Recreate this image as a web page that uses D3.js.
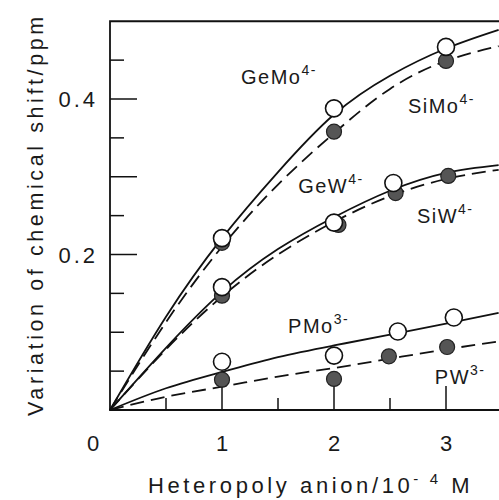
<!DOCTYPE html>
<html>
<head>
<meta charset="utf-8">
<script src="https://cdn.jsdelivr.net/npm/d3@7"></script>
<style>
  body { margin: 0; background: #fff; }
  svg { display: block; }
  text { font-family: "Liberation Sans", Arial, sans-serif; fill: #1a1a1a; }
</style>
</head>
<body>
<div id="chart"></div>
<script>
// curve x positions (10^-4 M) used for the fitted lines
const curveX = [0, 0.5, 1, 1.5, 2, 2.5, 3, 3.47]

// fitted curves (ppm)
const geMoCurve = [0, 0.12, 0.221, 0.306, 0.380, 0.430, 0.465, 0.489]
const siMoCurve = [0, 0.113, 0.21, 0.29, 0.356, 0.413, 0.449, 0.468]
const geWCurve  = [0, 0.08, 0.152, 0.207, 0.248, 0.282, 0.305, 0.315]
const siWCurve  = [0, 0.078, 0.146, 0.2, 0.242, 0.275, 0.297, 0.309]
const pMoCurve  = [0, 0.028, 0.049, 0.068, 0.083, 0.097, 0.111, 0.125]
const pWCurve   = [0, 0.017, 0.030, 0.043, 0.054, 0.066, 0.078, 0.088]

// measured points [x, y]
const geMoPts = [[1, 0.221], [2, 0.388], [3, 0.467]]
const siMoPts = [[1, 0.215], [2, 0.358], [3, 0.449]]
const geWPts  = [[1, 0.158], [2, 0.241], [2.53, 0.292]]
const siWPts  = [[1, 0.147], [2.04, 0.238], [2.55, 0.279], [3.02, 0.301]]
const pMoPts  = [[1, 0.062], [2, 0.070], [2.57, 0.101], [3.07, 0.119]]
const pWPts   = [[1, 0.039], [2, 0.040], [2.49, 0.069], [3.01, 0.081]]

const yMajor = [0.2, 0.3, 0.4]
const yMinor = [0.05, 0.1, 0.15, 0.25, 0.35, 0.45]
const xMajor = [1, 2, 3]
const xMinor = [0.5, 1.5, 2.5]
const yLabels = [0.2, 0.4]
const xLabels = [0, 1, 2, 3]

// label name, charge, anchor (data coords)
const seriesLabels = [
  ["GeMo", "4-", 1.17, 0.419],
  ["SiMo", "4-", 2.66, 0.382],
  ["GeW",  "4-", 1.68, 0.279],
  ["SiW",  "4-", 2.74, 0.240],
  ["PMo",  "3-", 1.59, 0.099],
  ["PW",   "3-", 2.90, 0.033]
]

const W = 499, H = 500
const margin = { top: 21, left: 110, bottom: 90 }
const plotBottom = H - margin.bottom

const svg = d3.select("#chart").append("svg")
  .attr("width", W)
  .attr("height", H)

const x = d3.scaleLinear().domain([0, 3.5]).range([margin.left, margin.left + 392])
const y = d3.scaleLinear().domain([0, 0.5]).range([plotBottom, margin.top + 0.25])

// frame
svg.append("path")
  .attr("d", `M${W + 5},${y(0.5)}H${x(0)}V${y(0)}H${W + 5}`)
  .attr("fill", "none")
  .attr("stroke", "#111")
  .attr("stroke-width", 1.8)

// ticks
const tickG = svg.append("g").attr("stroke", "#111").attr("stroke-width", 1.5)
tickG.selectAll(".ym").data(yMajor).enter().append("line")
  .attr("x1", x(0)).attr("x2", x(0) + 27)
  .attr("y1", d => y(d)).attr("y2", d => y(d))
tickG.selectAll(".yn").data(yMinor).enter().append("line")
  .attr("x1", x(0)).attr("x2", x(0) + 14)
  .attr("y1", d => y(d)).attr("y2", d => y(d))
tickG.selectAll(".xm").data(xMajor).enter().append("line")
  .attr("x1", d => x(d)).attr("x2", d => x(d))
  .attr("y1", y(0)).attr("y2", y(0) - 24)
tickG.selectAll(".xn").data(xMinor).enter().append("line")
  .attr("x1", d => x(d)).attr("x2", d => x(d))
  .attr("y1", y(0)).attr("y2", y(0) - 12)

// tick labels
svg.selectAll(".ylab").data(yLabels).enter().append("text")
  .attr("x", x(0) - 12)
  .attr("y", d => y(d) + 8)
  .attr("text-anchor", "end")
  .style("font-size", "22px")
  .style("letter-spacing", "3px")
  .text(d => d.toFixed(1))

svg.selectAll(".xlab").data(xLabels).enter().append("text")
  .attr("x", d => d === 0 ? x(0) - 17 : x(d))
  .attr("y", y(0) + 41)
  .attr("text-anchor", "middle")
  .style("font-size", "22px")
  .text(d => d)

// axis titles
const xt = svg.append("text")
  .attr("x", 148)
  .attr("y", 493)
  .style("font-size", "22px")
  .style("letter-spacing", "3.6px")
xt.append("tspan").text("Heteropoly anion/10")
xt.append("tspan").attr("dy", -9).style("font-size", "15px").text("- 4")
xt.append("tspan").attr("dy", 9).text(" M")

svg.append("text")
  .attr("transform", `translate(43,416) rotate(-90)`)
  .style("font-size", "21.5px")
  .style("letter-spacing", "3.6px")
  .text("Variation of chemical shift/ppm")

// curves
const line = d3.line()
  .x(d => x(d[0]))
  .y(d => y(d[1]))
  .curve(d3.curveNatural)

const curves = [
  [geMoCurve, false], [siMoCurve, true],
  [geWCurve, false], [siWCurve, true],
  [pMoCurve, false], [pWCurve, true]
]

svg.append("g").selectAll("path").data(curves).enter().append("path")
  .attr("d", d => line(curveX.map((v, i) => [v, d[0][i]])))
  .attr("fill", "none")
  .attr("stroke", "#111")
  .attr("stroke-width", 1.8)
  .attr("stroke-dasharray", d => d[1] ? "14,7" : null)

// filled markers first, open markers on top
const filled = [].concat(siMoPts, siWPts, pWPts)
const open = [].concat(geMoPts, geWPts, pMoPts)

svg.append("g").selectAll("circle").data(filled).enter().append("circle")
  .attr("cx", d => x(d[0]))
  .attr("cy", d => y(d[1]))
  .attr("r", 7.5)
  .attr("fill", "#555")
  .attr("stroke", "#222")
  .attr("stroke-width", 1.2)

svg.append("g").selectAll("circle").data(open).enter().append("circle")
  .attr("cx", d => x(d[0]))
  .attr("cy", d => y(d[1]))
  .attr("r", 8.5)
  .attr("fill", "#fff")
  .attr("stroke", "#111")
  .attr("stroke-width", 1.6)

// series labels
const lab = svg.append("g").selectAll("text").data(seriesLabels).enter().append("text")
  .attr("x", d => x(d[2]))
  .attr("y", d => y(d[3]))
  .style("font-size", "20px")
  .style("letter-spacing", "1.5px")
lab.append("tspan").text(d => d[0])
lab.append("tspan").attr("dy", -9).style("font-size", "14px").text(d => d[1])
</script>
</body>
</html>
